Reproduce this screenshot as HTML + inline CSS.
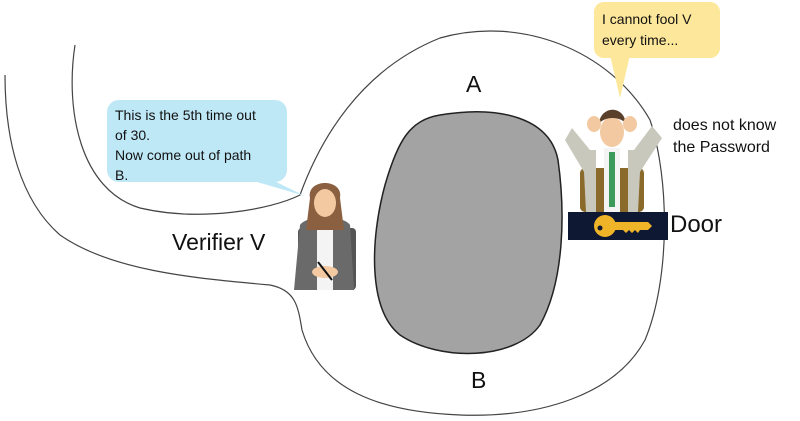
<!DOCTYPE html>
<html><head><style>
html,body{margin:0;padding:0;background:#fff;}
svg{display:block}
text{font-family:"Liberation Sans",sans-serif;fill:#111}
</style></head><body>
<svg width="800" height="421" viewBox="0 0 800 421">
<path d="M75,45 C65,110 80,190 140,208 C200,222 270,210 300,195 C320,140 360,70 440,38 C520,15 610,50 650,120 C670,180 670,280 645,340 C615,395 540,418 460,415 C380,412 320,390 302,330 C298,305 295,290 270,285 C190,278 110,270 60,235 C20,200 5,140 5,75" fill="none" stroke="#444" stroke-width="1.2"/>
<path d="M440,115 C500,105 550,118 558,160 C565,210 565,280 540,325 C515,360 440,362 400,335 C368,310 370,240 385,185 C398,140 410,120 440,115 Z" fill="#a3a3a3" stroke="#222" stroke-width="1.5"/>
<rect x="568" y="212" width="100" height="28" fill="#0e1832"/>
<circle cx="605" cy="226" r="11" fill="#f0b428"/>
<path d="M612,222 H648 L652,226 L648,230 H640 L638,233 L635,230 L632,233 L629,230 L626,233 L623,230 H612 Z" fill="#f0b428"/>
<circle cx="600" cy="228" r="2.5" fill="#0e1832"/>
<!-- man -->
<rect x="580" y="168" width="64" height="44" rx="5" fill="#8a6a2a"/>
<path d="M572,128 L590,150 L596,150 L596,212 L628,212 L628,150 L634,150 L652,126 L662,138 L640,172 L638,212 L586,212 L584,172 L565,140 Z" fill="#c8c8bc"/>
<rect x="604" y="148" width="16" height="64" fill="#f4f4f4"/>
<rect x="609" y="152" width="6" height="55" fill="#3c9a5a"/>
<ellipse cx="612" cy="132" rx="12" ry="15" fill="#f2c9a0"/>
<path d="M599,124 C600,106 624,104 626,124 C621,116 604,116 599,124 Z" fill="#5a3f2a"/>
<ellipse cx="594" cy="124" rx="7" ry="8" fill="#f2c9a0"/>
<ellipse cx="630" cy="124" rx="7" ry="8" fill="#f2c9a0"/>
<!-- woman -->
<rect x="298" y="228" width="58" height="62" rx="4" fill="#555"/>
<path d="M300,225 C306,215 344,215 350,225 L354,290 L294,290 Z" fill="#6a6a6a"/>
<rect x="317" y="225" width="16" height="65" fill="#f4f4f4"/>
<path d="M310,198 C306,178 344,178 340,198 L344,230 L306,230 Z" fill="#8a6040"/>
<ellipse cx="325" cy="203" rx="11" ry="14" fill="#f2c9a0"/>
<ellipse cx="325" cy="272" rx="13" ry="6" fill="#f2c9a0"/>
<line x1="318" y1="262" x2="332" y2="280" stroke="#111" stroke-width="2"/>
<!-- bubbles -->
<path d="M268,178 L305,196 L250,180 Z" fill="#bfe8f7"/>
<rect x="107" y="100" width="180" height="82" rx="12" fill="#bfe8f7"/>
<path d="M610,55 L620,98 L630,55 Z" fill="#fde79a"/>
<rect x="594" y="2" width="126" height="56" rx="10" fill="#fde79a"/>
<text x="115" y="120" font-size="14">This is the 5th time out</text>
<text x="115" y="140" font-size="14">of 30.</text>
<text x="115" y="160" font-size="14">Now come out of path</text>
<text x="115" y="180" font-size="14">B.</text>
<text x="602" y="24" font-size="14">I cannot fool V</text>
<text x="602" y="45" font-size="14">every time...</text>
<text x="673" y="130" font-size="16">does not know</text>
<text x="673" y="152" font-size="16">the Password</text>
<text x="670" y="232" font-size="24">Door</text>
<text x="172" y="250" font-size="23">Verifier V</text>
<text x="466" y="92" font-size="23">A</text>
<text x="471" y="388" font-size="23">B</text>
</svg>
</body></html>
